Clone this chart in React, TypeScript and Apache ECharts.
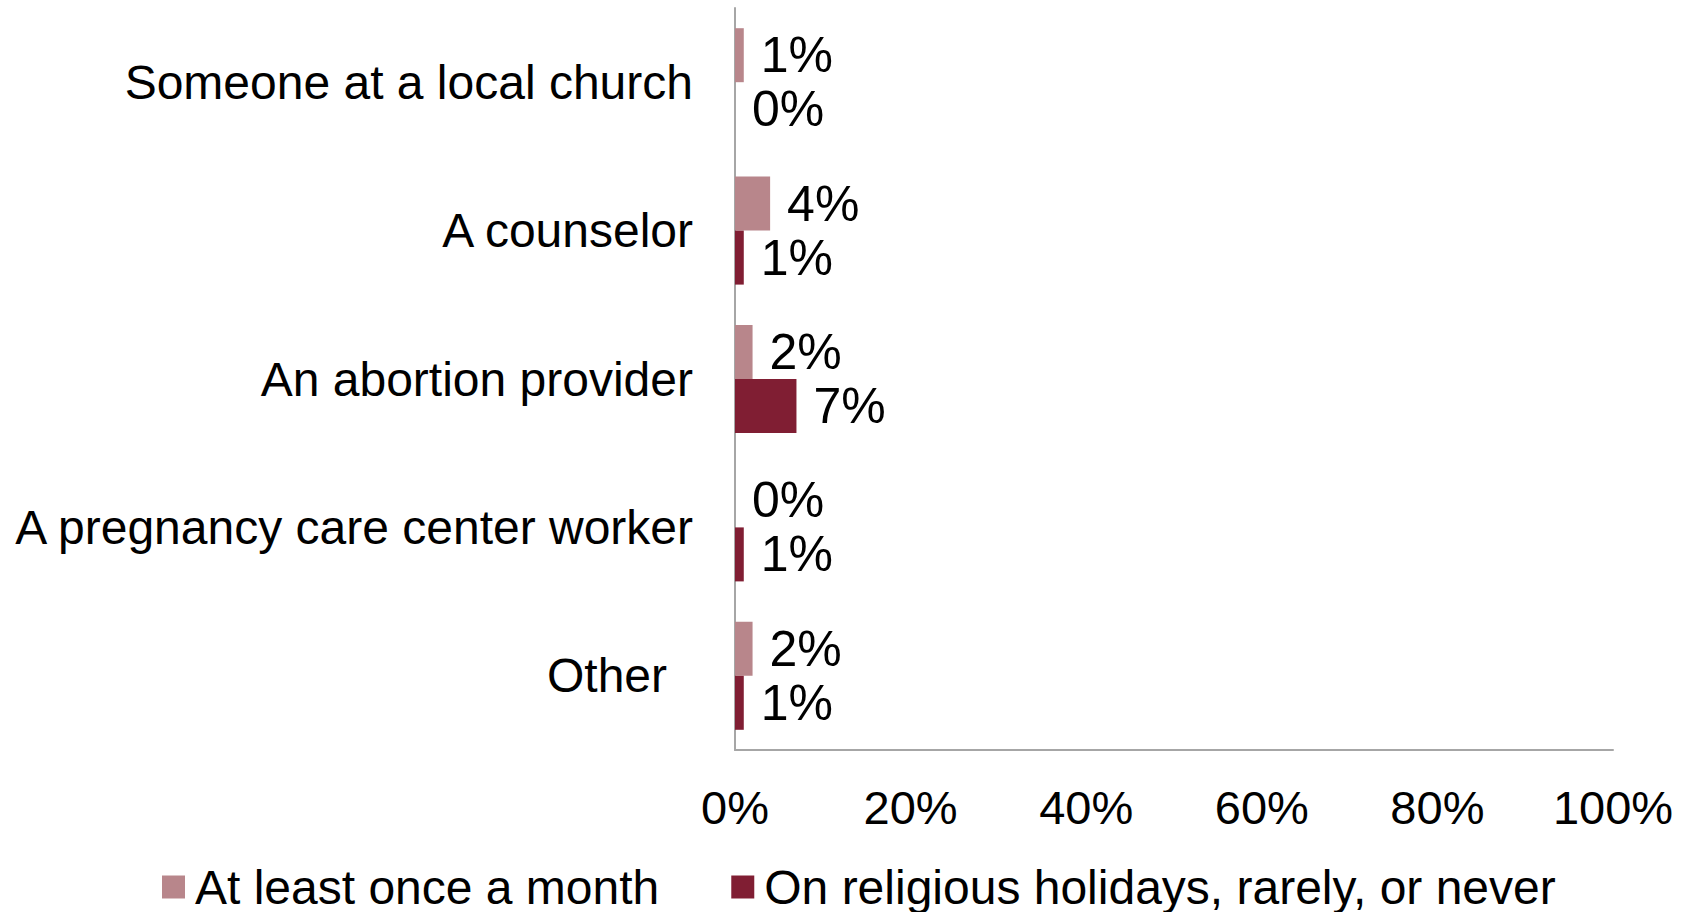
import React, { useEffect, useRef } from "react";
import * as echarts from "echarts";

const categories = [
  "Someone at a local church",
  "A counselor",
  "An abortion provider",
  "A pregnancy care center worker",
  "Other",
];
const seriesNames = ["At least once a month", "On religious holidays, rarely, or never"];
const monthlyValues = [1, 4, 2, 0, 2];
const rarelyValues = [0, 1, 7, 1, 1];
const xTicks = { min: 0, max: 100, interval: 20 };

const FONT = "'Liberation Sans', Arial, sans-serif";

export default function App() {
  const ref = useRef<HTMLDivElement>(null);
  useEffect(() => {
    document.body.style.margin = "0";
    const chart = echarts.init(ref.current!, null, { renderer: "svg" });
    const label = {
      show: true,
      position: "right",
      distance: 17,
      formatter: "{c}%",
      color: "#000",
      fontSize: 50,
      fontFamily: FONT,
    };
    chart.setOption({
      animation: false,
      textStyle: { fontFamily: FONT },
      grid: { left: 735, right: 79, top: 8, bottom: 162, containLabel: false },
      legend: {
        data: seriesNames,
        left: 157,
        top: 857,
        icon: "rect",
        itemWidth: 23,
        itemHeight: 23,
        itemGap: 72,
        textStyle: {
          fontSize: 48,
          lineHeight: 50,
          color: "#000",
          fontFamily: FONT,
          padding: [0, 0, 0, 5],
        },
      },
      xAxis: {
        type: "value",
        min: xTicks.min,
        max: xTicks.max,
        interval: xTicks.interval,
        axisLine: { show: true, lineStyle: { color: "#a6a6a6", width: 2 } },
        axisTick: { show: false },
        splitLine: { show: false },
        axisLabel: {
          formatter: "{value}%",
          fontSize: 47,
          color: "#000",
          margin: 34,
          fontFamily: FONT,
        },
      },
      yAxis: {
        type: "category",
        data: categories,
        inverse: true,
        axisLine: { show: true, lineStyle: { color: "#a6a6a6", width: 2 } },
        axisTick: { show: false },
        axisLabel: {
          fontSize: 48,
          color: "#000",
          margin: 42,
          fontFamily: FONT,
          formatter: (v: string) => (v === "Other" ? "{o|" + v + "}" : v),
          rich: {
            o: { fontSize: 48, color: "#000", fontFamily: FONT, padding: [0, 26, 0, 0] },
          },
        },
      },
      series: [
        {
          name: seriesNames[0],
          type: "bar",
          data: monthlyValues,
          barWidth: 54,
          barGap: "0%",
          itemStyle: { color: "#b8868b" },
          label,
        },
        {
          name: seriesNames[1],
          type: "bar",
          data: rarelyValues,
          barWidth: 54,
          barGap: "0%",
          itemStyle: { color: "#801e33" },
          label,
        },
      ],
    });
    return () => chart.dispose();
  }, []);
  return <div ref={ref} style={{ width: 1692, height: 912 }} />;
}
